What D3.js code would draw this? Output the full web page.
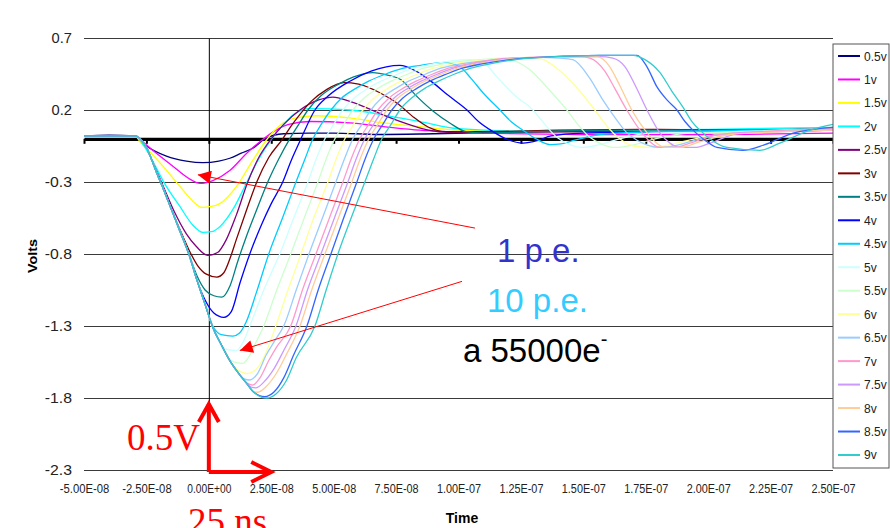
<!DOCTYPE html>
<html>
<head>
<meta charset="utf-8">
<script src="https://cdn.jsdelivr.net/npm/d3@7"></script>
<style>
  html, body { margin: 0; padding: 0; background: #fff; }
  svg { display: block; font-family: "Liberation Sans", Arial, sans-serif; }
</style>
</head>
<body>
<div id="chart"></div>
<script>
/* ---- data (time in ns, amplitude in volts) -------------------------- */

const seriesNames = ['0.5v','1v','1.5v','2v','2.5v','3v','3.5v','4v','4.5v',
                     '5v','5.5v','6v','6.5v','7v','7.5v','8v','8.5v','9v'];

const seriesColors = ['#000080','#ff00ff','#ffff00','#00ffff','#800080','#800000',
                      '#008080','#0000ff','#00ccff','#ccffff','#ccffcc','#ffff99',
                      '#99ccff','#ff99cc','#cc99ff','#ffcc99','#3366ff','#33cccc'];

const xTicks = [-50,-25,0,25,50,75,100,125,150,175,200,225,250];
const xTickLabels = ['-5.00E-08','-2.50E-08','0.00E+00','2.50E-08','5.00E-08','7.50E-08',
                     '1.00E-07','1.25E-07','1.50E-07','1.75E-07','2.00E-07','2.25E-07','2.50E-07'];
const yTicks = [0.7,0.2,-0.3,-0.8,-1.3,-1.8,-2.3];
const yTickLabels = ['0.7','0.2','-0.3','-0.8','-1.3','-1.8','-2.3'];

const v05 = [[-50,.02],[-40,.025],[-29.5,.02],[-25,-.05],[-17,-.12],[-9,-.155],[-2.4,-.166],[4,-.155],
  [8.4,-.135],[13,-.1],[17.6,-.066],[22.5,0],[30,.035],[40,.04],[50,.04],[68,.03],[90,.035],[120,.045],
  [150,.05],[180,.05],[210,.05],[250,.06]];
const v1 = [[-50,.02],[-40,.02],[-29.5,.02],[-28,0],[-21,-.10],[-14.4,-.19],[-7.6,-.28],[-3.6,-.31],
  [1.6,-.29],[8.4,-.22],[15.2,-.10],[21.2,-.01],[26,.05],[32,.1],[40.5,.12],[56.5,.11],[70,.085],
  [84.5,.06],[110,.04],[150,.03],[200,.03],[250,.04]];
const v15 = [[-50,.02],[-40,.02],[-29.5,.02],[-27.6,-.02],[-22,-.12],[-18.4,-.19],[-11.6,-.33],[-6,-.44],
  [-2.9,-.476],[1,-.47],[4.4,-.45],[11.1,-.33],[17.6,-.15],[23,-.01],[27,.07],[33.6,.14],[43,.16],
  [56.5,.145],[70,.11],[84.5,.085],[100,.06],[130,.05],[170,.05],[210,.05],[250,.07]];
const v2 = [[-50,.02],[-40,.02],[-29.5,.02],[-26,-.05],[-22,-.17],[-18.4,-.29],[-11.6,-.47],[-6.4,-.6],
  [-2.4,-.65],[1,-.645],[4.4,-.61],[10,-.48],[15,-.31],[20,-.14],[25.2,0],[30,.1],[34,.17],[40.5,.21],
  [56.5,.2],[76.5,.145],[84.5,.12],[100,.07],[120,.055],[160,.06],[200,.065],[250,.08]];
const v25 = [[-50,.02],[-40,.02],[-29.5,.02],[-27,-.01],[-25,-.06],[-23,-.14],[-19,-.3],[-14,-.5],
  [-9,-.66],[-4.9,-.75],[-0.4,-.81],[3.5,-.79],[7,-.70],[11,-.53],[15.6,-.3],[20,-.13],[25,0],[30,.1],
  [36.5,.2],[44,.27],[49.7,.29],[56.5,.26],[64,.21],[72,.15],[80,.1],[88,.06],[96,.045],[110,.045],
  [150,.05],[200,.05],[250,.06]];
const v3 = [[-50,.02],[-40,.02],[-29.5,.02],[-27,-.01],[-25,-.06],[-23,-.14],[-21,-.23],[-18.4,-.34],
  [-15,-.49],[-11.6,-.63],[-8,-.77],[-4.5,-.88],[-1,-.94],[3.2,-.96],[6,-.93],[8.5,-.83],[11,-.70],
  [15,-.5],[19.2,-.3],[24,-.13],[29.6,0],[33,.09],[36.5,.17],[41,.26],[47,.34],[54,.39],[60,.38],
  [68.5,.32],[76,.24],[82,.15],[88,.08],[95,.05],[110,.05],[140,.06],[180,.065],[220,.06],[250,.07]];
const v35 = [[-50,.02],[-40,.02],[-29.5,.02],[-27,-.01],[-25,-.06],[-23,-.14],[-21,-.23],[-18.4,-.34],
  [-15,-.49],[-11.6,-.64],[-8,-.80],[-4.8,-.95],[-1.5,-1.05],[2,-1.09],[5.2,-1.10],[8.5,-1.02],
  [11.6,-.85],[15,-.68],[19,-.5],[23.6,-.3],[28,-.14],[32.4,0],[36,.1],[39.7,.2],[45,.3],[52,.38],
  [58,.43],[65.7,.46],[72,.44],[77,.41],[83,.3],[90,.19],[96.5,.11],[103,.05],[110,.04],[130,.05],
  [170,.06],[210,.06],[250,.07]];
const v4 = [[-50,.02],[-40,.02],[-29.5,.02],[-27,-.01],[-25,-.06],[-23,-.14],[-21,-.23],[-18.4,-.34],
  [-15,-.49],[-11.6,-.64],[-8,-.80],[-4.8,-.98],[-1.5,-1.12],[2,-1.21],[6,-1.24],[9,-1.2],[12.5,-1.0],
  [16.4,-.8],[21,-.6],[25,-.45],[29.6,-.3],[33,-.15],[36.9,0],[42.5,.2],[48,.3],[56.5,.4],[65,.47],
  [76.5,.51],[83,.47],[89.7,.39],[96,.3],[103.4,.2],[108,.12],[113.8,.05],[119,0],[125.8,-.03],
  [132,-.01],[137,.02],[150,.04],[180,.05],[210,.055],[250,.065]];
const v45 = [[-50,.02],[-40,.02],[-29.5,.02],[-27,-.01],[-25,-.06],[-23,-.14],[-21,-.23],[-18.4,-.34],
  [-15,-.49],[-11.6,-.64],[-8,-.80],[-4.8,-.98],[-1.5,-1.15],[1.6,-1.30],[5,-1.36],[9.6,-1.37],
  [12.2,-1.35],[15,-1.27],[19,-1.07],[24,-.8],[29.5,-.55],[34.9,-.3],[38.5,-.14],[41.7,0],[45,.1],
  [48.9,.2],[53,.28],[58.9,.35],[64,.4],[70.9,.45],[78,.49],[84.9,.51],[94.5,.53],[100.5,.5],[105,.42],
  [109.8,.32],[116.6,.2],[121,.12],[125.8,.06],[131,0],[136.6,-.04],[141,-.035],[146.6,-.01],
  [156.6,.03],[180,.05],[220,.06],[250,.07]];
const v5 = [[-50,.02],[-40,.02],[-29.5,.02],[-27,-.01],[-25,-.06],[-23,-.14],[-21,-.23],[-18.4,-.34],
  [-15,-.49],[-11.6,-.64],[-8,-.80],[-4.8,-.98],[-1.5,-1.15],[1.6,-1.31],[5,-1.43],[7.5,-1.465],
  [11.2,-1.47],[13.5,-1.42],[16.4,-1.3],[22,-1.05],[28.4,-.8],[34,-.55],[39.7,-.3],[43,-.14],[46.5,0],
  [50,.1],[53.7,.2],[58,.28],[63.7,.35],[69,.4],[75.7,.45],[82,.49],[89.7,.52],[104.6,.55],[110.6,.52],
  [115.4,.43],[122.6,.3],[129.8,.2],[134.6,.1],[139.4,.01],[144.6,-.04],[149.8,-.06],[156.6,-.04],
  [164.6,0],[176.7,.04],[210,.05],[250,.07]];
const v55 = [[-50,.02],[-40,.02],[-29.5,.02],[-27,-.01],[-25,-.06],[-23,-.14],[-21,-.23],[-18.4,-.34],
  [-15,-.49],[-11.6,-.64],[-8,-.80],[-4.8,-.98],[-1.5,-1.15],[1.6,-1.31],[5,-1.43],[8.4,-1.53],
  [11,-1.555],[13.6,-1.56],[16.5,-1.5],[19,-1.41],[22,-1.3],[27,-1.06],[32.8,-.8],[38,-.56],[43.7,-.3],
  [47,-.14],[50.5,0],[54,.1],[57.7,.2],[62,.28],[67.7,.35],[73,.4],[79.7,.45],[86,.49],[93.7,.52],
  [108.6,.55],[118.6,.56],[124,.53],[128.6,.48],[135.8,.35],[143.4,.2],[147.8,.1],[152.6,.01],
  [157.8,-.04],[162.6,-.06],[170.7,-.04],[178.7,0],[192.7,.04],[220,.05],[250,.07]];
const v6 = [[-50,.02],[-40,.02],[-29.5,.02],[-27,-.01],[-25,-.06],[-23,-.14],[-21,-.23],[-18.4,-.34],
  [-15,-.49],[-11.6,-.64],[-8,-.80],[-4.8,-.98],[-1.5,-1.15],[1.6,-1.31],[5,-1.43],[8.4,-1.54],
  [12,-1.61],[15.2,-1.63],[19,-1.6],[22.5,-1.5],[26.8,-1.3],[31.5,-1.06],[36.9,-.8],[42,-.55],
  [47.7,-.3],[51,-.14],[54.5,0],[58,.1],[61.7,.2],[66,.28],[71.7,.35],[77,.4],[83.7,.45],[90,.49],
  [97.7,.52],[112.6,.55],[128.6,.565],[134,.55],[138.6,.5],[146.6,.37],[154.6,.2],[159.8,.08],
  [164.6,0],[169.9,-.05],[176.7,-.06],[184.7,-.04],[194.7,0],[208.7,.04],[250,.06]];
const v65 = [[-50,.02],[-40,.02],[-29.5,.02],[-27,-.01],[-25,-.06],[-23,-.14],[-21,-.23],[-18.4,-.34],
  [-15,-.49],[-11.6,-.64],[-8,-.80],[-4.8,-.98],[-1.5,-1.15],[1.6,-1.31],[5,-1.43],[8.4,-1.54],
  [12,-1.63],[14,-1.665],[16.4,-1.675],[19.5,-1.63],[23,-1.5],[26.5,-1.4],[30,-1.3],[35,-1.05],
  [40.1,-.8],[45.5,-.55],[50.9,-.3],[54.3,-.14],[57.7,0],[61.3,.1],[64.9,.2],[69,.28],[74.9,.35],
  [80,.4],[86.9,.45],[93,.49],[100.9,.52],[115.8,.55],[132.6,.565],[140.6,.56],[145.8,.55],
  [152.6,.42],[157.8,.27],[163.4,.13],[167,.05],[171.5,-.01],[176,-.045],[180.7,-.06],[186,-.05],
  [192.7,-.02],[204.7,.03],[225,.05],[250,.06]];
const v7 = [[-50,.02],[-40,.02],[-29.5,.02],[-27,-.01],[-25,-.06],[-23,-.14],[-21,-.23],[-18.4,-.34],
  [-15,-.49],[-11.6,-.64],[-8,-.80],[-4.8,-.98],[-1.5,-1.15],[1.6,-1.31],[5,-1.43],[8.4,-1.54],
  [12,-1.63],[15.2,-1.695],[17.6,-1.71],[20.5,-1.66],[24,-1.54],[27,-1.45],[32.8,-1.3],[37.5,-1.05],
  [42.9,-.8],[48.3,-.55],[53.7,-.3],[57,-.14],[60.5,0],[64,.1],[67.7,.2],[72,.28],[77.7,.35],[83,.4],
  [89.7,.45],[96,.49],[103.8,.52],[120.6,.56],[148.6,.57],[152.6,.56],[158.6,.47],[162.6,.35],
  [167.4,.2],[172.7,.06],[176.7,-.02],[180.7,-.06],[186.7,-.06],[192.7,-.03],[204.7,.03],
  [220.7,.05],[250,.07]];
const v75 = [[-50,.02],[-40,.02],[-29.5,.02],[-27,-.01],[-25,-.06],[-23,-.14],[-21,-.23],[-18.4,-.34],
  [-15,-.49],[-11.6,-.64],[-8,-.80],[-4.8,-.98],[-1.5,-1.15],[1.6,-1.31],[5,-1.43],[8.4,-1.54],
  [12,-1.63],[15.2,-1.70],[17,-1.725],[18.8,-1.73],[22,-1.69],[26,-1.6],[30,-1.47],[34.9,-1.3],
  [39.5,-1.05],[44.9,-.8],[50.3,-.55],[55.7,-.3],[59,-.14],[62.5,0],[66,.1],[69.7,.2],[74,.28],
  [79.7,.35],[85,.4],[91.7,.45],[98,.49],[105.8,.52],[122.6,.56],[156.6,.57],[161.8,.56],
  [166.7,.5],[171.1,.36],[175.5,.2],[180.7,.04],[184.7,-.03],[188.7,-.06],[194.7,-.06],
  [200.7,-.03],[212.7,.04],[230,.05],[250,.06]];
const v8 = [[-50,.02],[-40,.02],[-29.5,.02],[-27,-.01],[-25,-.06],[-23,-.14],[-21,-.23],[-18.4,-.34],
  [-15,-.49],[-11.6,-.64],[-8,-.80],[-4.8,-.98],[-1.5,-1.15],[1.6,-1.31],[5,-1.43],[8.4,-1.54],
  [12,-1.63],[15.2,-1.70],[18,-1.755],[19.6,-1.76],[23,-1.72],[27,-1.63],[31,-1.5],[36.5,-1.3],
  [41.2,-1.05],[46.5,-.8],[51.9,-.55],[57.3,-.3],[60.6,-.14],[64.1,0],[67.7,.1],[71.3,.2],[75.5,.28],
  [81.3,.35],[86.5,.4],[93.3,.45],[99.6,.49],[107.4,.52],[124.6,.56],[152.6,.57],[155.4,.57],
  [160.6,.5],[164.6,.37],[169.4,.2],[174.7,.06],[178.7,-.02],[182.7,-.06],[188.7,-.06],
  [196.7,-.02],[208.7,.03],[230,.05],[250,.06]];
const v85 = [[-50,.02],[-40,.02],[-29.5,.02],[-27,-.01],[-25,-.06],[-23,-.14],[-21,-.23],[-18.4,-.34],
  [-15,-.49],[-11.6,-.64],[-8,-.80],[-4.8,-.98],[-1.5,-1.15],[1.6,-1.31],[5,-1.43],[8.4,-1.54],
  [12,-1.63],[15.2,-1.70],[18,-1.76],[22.4,-1.79],[26,-1.76],[30,-1.66],[34,-1.5],[39.3,-1.3],
  [43.8,-1.05],[48.9,-.8],[54,-.55],[59.3,-.3],[62.6,-.14],[66.1,0],[69.7,.1],[73.3,.2],[77.5,.28],
  [83.3,.35],[88.5,.4],[95.3,.45],[101.6,.49],[109.4,.52],[126.6,.56],[156.6,.58],[171.5,.58],
  [175.5,.5],[179.5,.36],[183.5,.27],[187.5,.2],[190.7,.12],[193.9,.06],[198.7,-.01],[203.5,-.06],
  [213.9,-.08],[222.7,-.04],[234,.04],[250,.08]];
const v9 = [[-50,.02],[-40,.02],[-29.5,.02],[-27,-.01],[-25,-.06],[-23,-.14],[-21,-.23],[-18.4,-.34],
  [-15,-.49],[-11.6,-.64],[-8,-.80],[-4.8,-.98],[-1.5,-1.15],[1.6,-1.31],[5,-1.43],[8.4,-1.54],
  [12,-1.63],[15.2,-1.70],[18,-1.76],[21.2,-1.795],[23.2,-1.80],[27,-1.77],[31,-1.68],[35,-1.52],
  [42.5,-1.3],[47,-1.05],[51.7,-.8],[57,-.55],[62.5,-.3],[66,-.14],[69.3,0],[73,.1],[76.5,.2],
  [81,.28],[86.5,.35],[92,.4],[98.5,.45],[105,.49],[112.6,.52],[128.6,.56],[156.6,.58],[169.9,.58],
  [174.7,.55],[180.7,.46],[185.5,.33],[189.9,.22],[193.5,.12],[196.7,.06],[201.5,-.01],[207.5,-.06],
  [220.7,-.08],[228.7,-.03],[240.8,.06],[250,.1]];

const seriesValues = [v05,v1,v15,v2,v25,v3,v35,v4,v45,v5,v55,v6,v65,v7,v75,v8,v85,v9];

/* ---- layout --------------------------------------------------------- */
const W = 890, H = 528;
const plot = { left: 84, right: 833, top: 38, bottom: 470 };

const svg = d3.select('#chart').append('svg')
  .attr('width', W).attr('height', H);

const x = d3.scaleLinear().domain([-50, 250]).range([plot.left, plot.right]);
const y = d3.scaleLinear().domain([-2.3, 0.7]).range([plot.bottom, plot.top]);

/* horizontal grid + y labels */
const gy = svg.append('g')
  .attr('transform', `translate(${plot.left},0)`)
  .call(d3.axisLeft(y).tickValues(yTicks)
    .tickSize(-(plot.right - plot.left)).tickPadding(12)
    .tickFormat((d, i) => yTickLabels[i]));
gy.select('.domain').remove();
gy.selectAll('.tick line').attr('stroke', '#3a3a3a').attr('stroke-width', 1.2);
gy.selectAll('.tick text')
  .attr('fill', '#222').style('font-size', '15px')
  .attr('font-family', '"Liberation Sans", Arial, sans-serif')
  .attr('textLength', d => String(d).length * 6.8)
  .attr('lengthAdjust', 'spacingAndGlyphs');

/* vertical axis at t = 0 */
svg.append('g')
  .attr('transform', `translate(${x(0)},0)`)
  .call(d3.axisRight(y).tickValues([]).tickSizeOuter(0))
  .select('.domain').attr('stroke', '#000').attr('stroke-width', 1);

/* x labels at the bottom */
const gxl = svg.append('g')
  .attr('transform', `translate(0,${plot.bottom})`)
  .call(d3.axisBottom(x).tickValues(xTicks).tickSize(0).tickPadding(14)
    .tickFormat((d, i) => xTickLabels[i]));
gxl.select('.domain').remove();
gxl.selectAll('.tick text')
  .attr('fill', '#222').style('font-size', '12.5px')
  .attr('font-family', '"Liberation Sans", Arial, sans-serif')
  .attr('textLength', (d, i) => xTickLabels[i].length * 5.5)
  .attr('lengthAdjust', 'spacingAndGlyphs');

/* bold zero line with tick marks */
const gx0 = svg.append('g')
  .attr('transform', `translate(0,${y(0)})`)
  .call(d3.axisBottom(x).tickValues(xTicks).tickSize(5).tickSizeOuter(0).tickFormat(''));
gx0.select('.domain').attr('stroke', '#000').attr('stroke-width', 3.2);
gx0.selectAll('.tick line').attr('stroke', '#000').attr('stroke-width', 2);

/* series */
const line = d3.line()
  .x(d => x(d[0]))
  .y(d => y(d[1]))
  .curve(d3.curveMonotoneX);

svg.append('g').selectAll('path')
  .data(seriesValues)
  .join('path')
  .attr('d', line)
  .attr('fill', 'none')
  .attr('stroke', (d, i) => seriesColors[i])
  .attr('stroke-width', 1.3);

/* axis titles */
svg.append('text')
  .attr('transform', `translate(37,${(plot.top + plot.bottom) / 2 + 2}) rotate(-90)`)
  .attr('text-anchor', 'middle')
  .style('font-size', '13px').style('font-weight', 'bold')
  .attr('textLength', 34).attr('lengthAdjust', 'spacingAndGlyphs')
  .text('Volts');

svg.append('text')
  .attr('x', 462).attr('y', 523)
  .attr('text-anchor', 'middle')
  .style('font-size', '14px').style('font-weight', 'bold')
  .text('Time');

/* legend */
const legend = svg.append('g').attr('transform', 'translate(833,44)');
legend.append('rect')
  .attr('width', 56).attr('height', 424)
  .attr('fill', '#fff').attr('stroke', '#555').attr('stroke-width', 1);

const item = legend.selectAll('g.item')
  .data(seriesNames)
  .join('g')
  .attr('class', 'item')
  .attr('transform', (d, i) => `translate(0,${12 + i * 23.47})`);
item.append('line')
  .attr('x1', 5).attr('x2', 27)
  .attr('stroke', (d, i) => seriesColors[i]).attr('stroke-width', 2);
item.append('text')
  .attr('x', 31).attr('y', 4.5)
  .style('font-size', '12px').attr('fill', '#222')
  .text(d => d);

/* annotations */
const red = '#ff0000';
const defs = svg.append('defs');
defs.append('marker')
  .attr('id', 'tri').attr('viewBox', '0 0 10 10')
  .attr('refX', 10).attr('refY', 5)
  .attr('markerWidth', 15).attr('markerHeight', 13)
  .attr('markerUnits', 'userSpaceOnUse')
  .attr('orient', 'auto')
  .append('path').attr('d', 'M0,0L10,5L0,10Z').attr('fill', red);

const arrows = [
  { from: [106.6, -0.62], to: [-4.4, -0.25] },
  { from: [101.4, -0.99], to: [12.4, -1.47] },
];
svg.append('g').selectAll('line')
  .data(arrows)
  .join('line')
  .attr('x1', d => x(d.from[0])).attr('y1', d => y(d.from[1]))
  .attr('x2', d => x(d.to[0])).attr('y2', d => y(d.to[1]))
  .attr('stroke', red).attr('stroke-width', 1)
  .attr('marker-end', 'url(#tri)');

svg.append('text').attr('x', 497).attr('y', 262)
  .style('font-size', '33px').attr('fill', '#3333cc').text('1 p.e.');
svg.append('text').attr('x', 487).attr('y', 312)
  .style('font-size', '33px').attr('fill', '#33ccff').text('10 p.e.');
const t55 = svg.append('text').attr('x', 463).attr('y', 362)
  .style('font-size', '33px').attr('fill', '#000');
t55.append('tspan').text('a 55000e');
t55.append('tspan').attr('dy', -16).style('font-size', '20px').text('-');

/* 0.5 V / 25 ns scale marker */
const scaleMark = svg.append('g')
  .attr('fill', 'none').attr('stroke', red).attr('stroke-width', 4)
  .attr('stroke-linejoin', 'miter');
const ox = x(0), oy = plot.bottom + 2;
scaleMark.append('path')
  .attr('d', `M${ox},${oy}V${oy - 68}M${x(25)},${oy}H${ox}`);
scaleMark.append('path')
  .attr('d', `M${ox - 10},${oy - 50}L${ox},${oy - 68}L${ox + 10},${oy - 50}`);
scaleMark.append('path')
  .attr('d', `M${x(25) - 20},${oy - 10}L${x(25)},${oy}L${x(25) - 20},${oy + 10}`);

svg.append('text').attr('x', 127).attr('y', 450)
  .attr('font-family', '"Liberation Serif", "Times New Roman", serif')
  .style('font-size', '37px').attr('fill', red).text('0.5V');
svg.append('text').attr('x', 188).attr('y', 534)
  .attr('font-family', '"Liberation Serif", "Times New Roman", serif')
  .style('font-size', '37px').attr('fill', red).text('25 ns');
</script>
</body>
</html>
